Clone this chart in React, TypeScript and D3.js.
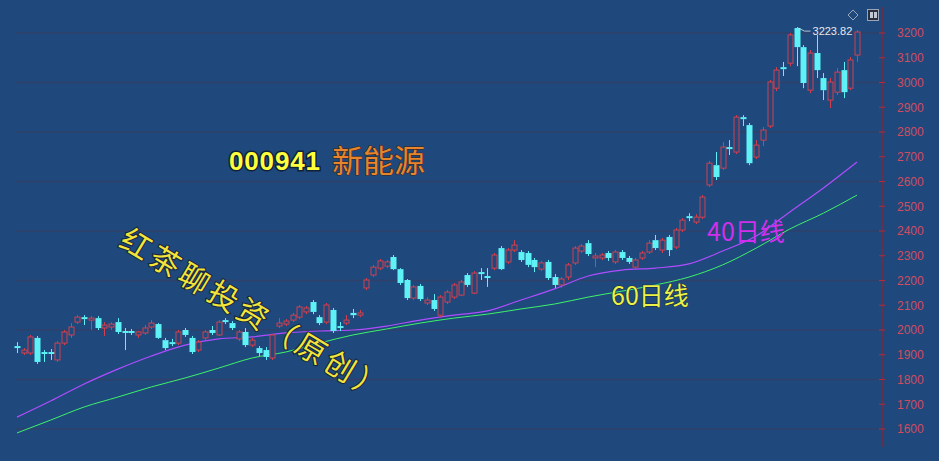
import React from 'react';
import * as d3 from 'd3';

// daily candles (index 0 = leftmost bar)
const opens = [
  1935, 1907, 1907, 1968, 1911, 1911, 1879, 1947, 1980, 2032,
  2052, 2040, 2048, 2008, 2012, 2032, 1996, 1996, 1980, 1988,
  2012, 2024, 1959, 1951, 1947, 2000, 1968, 1919, 1968, 2000,
  1980, 2040, 2028, 1964, 1992, 1939, 1927, 1919, 1887, 2016,
  2024, 2040, 2052, 2073, 2113, 2052, 2032, 2081, 2016, 2028,
  2069, 2060, 2170, 2222, 2250, 2258, 2295, 2246, 2202, 2129,
  2178, 2109, 2121, 2060, 2113, 2133, 2141, 2222, 2149, 2234,
  2218, 2250, 2331, 2275, 2323, 2315, 2311, 2283, 2246, 2275,
  2214, 2182, 2214, 2271, 2319, 2351, 2291, 2291, 2311, 2275,
  2315, 2291, 2254, 2291, 2315, 2363, 2323, 2376, 2335, 2404,
  2460, 2436, 2456, 2586, 2666, 2654, 2739, 2719, 2860, 2828,
  2699, 2767, 2824, 2977, 3062, 3078, 3220, 3143, 2969, 3119,
  3018, 2929, 2961, 3050, 2977, 3111,
];
const highs = [
  1951, 1927, 1980, 1976, 1919, 1923, 1955, 2000, 2028, 2060,
  2060, 2056, 2056, 2032, 2032, 2048, 2008, 2004, 1996, 2020,
  2040, 2028, 1968, 1964, 2000, 2008, 1976, 1959, 2000, 2016,
  2040, 2048, 2036, 2000, 2008, 1968, 1935, 1931, 1984, 2048,
  2044, 2069, 2101, 2097, 2121, 2060, 2109, 2089, 2032, 2060,
  2085, 2081, 2210, 2263, 2287, 2283, 2303, 2250, 2206, 2182,
  2186, 2133, 2145, 2141, 2161, 2190, 2202, 2230, 2238, 2250,
  2250, 2311, 2339, 2331, 2363, 2323, 2319, 2291, 2279, 2283,
  2226, 2214, 2271, 2339, 2347, 2363, 2311, 2311, 2319, 2323,
  2323, 2299, 2291, 2319, 2363, 2384, 2372, 2384, 2412, 2452,
  2472, 2468, 2545, 2683, 2719, 2759, 2767, 2868, 2868, 2836,
  2767, 2820, 3010, 3062, 3083, 3200, 3223.82, 3151, 3131, 3192,
  3038, 3018, 3058, 3083, 3103, 3212,
];
const lows = [
  1907, 1899, 1899, 1863, 1871, 1879, 1871, 1939, 1968, 2024,
  2020, 2000, 2000, 1976, 2000, 1984, 1919, 1980, 1968, 1980,
  2004, 1964, 1919, 1935, 1939, 1972, 1903, 1911, 1959, 1980,
  1976, 2024, 2000, 1955, 1931, 1931, 1895, 1879, 1879, 2008,
  2016, 2032, 2044, 2064, 2064, 2020, 2024, 1988, 1996, 2020,
  2048, 2052, 2161, 2214, 2242, 2250, 2242, 2182, 2121, 2121,
  2117, 2101, 2077, 2052, 2105, 2125, 2137, 2174, 2145, 2202,
  2174, 2242, 2242, 2267, 2315, 2275, 2254, 2234, 2238, 2202,
  2170, 2170, 2202, 2263, 2311, 2299, 2254, 2283, 2279, 2267,
  2283, 2267, 2246, 2283, 2307, 2323, 2311, 2299, 2327, 2396,
  2440, 2428, 2448, 2578, 2606, 2646, 2707, 2711, 2824, 2666,
  2691, 2743, 2816, 2965, 3026, 3066, 3066, 2977, 2957, 3018,
  2929, 2897, 2949, 2937, 2969, 3083,
];
const closes = [
  1927, 1919, 1972, 1871, 1903, 1903, 1947, 1992, 2012, 2052,
  2044, 2048, 2008, 2020, 2024, 1992, 1988, 1988, 1992, 2008,
  2028, 1968, 1927, 1943, 1992, 1980, 1911, 1951, 1992, 1988,
  2032, 2032, 2008, 1992, 1939, 1959, 1907, 1891, 1980, 2028,
  2036, 2060, 2093, 2089, 2073, 2028, 2101, 1996, 2008, 2040,
  2060, 2069, 2202, 2254, 2279, 2275, 2246, 2190, 2129, 2174,
  2125, 2121, 2085, 2133, 2153, 2182, 2194, 2182, 2230, 2226,
  2210, 2303, 2246, 2323, 2343, 2283, 2263, 2254, 2271, 2210,
  2182, 2206, 2263, 2331, 2339, 2307, 2299, 2303, 2291, 2315,
  2291, 2275, 2283, 2311, 2351, 2331, 2363, 2323, 2404, 2444,
  2452, 2456, 2537, 2674, 2618, 2739, 2731, 2860, 2852, 2674,
  2747, 2808, 3002, 3050, 3054, 3192, 3143, 2998, 3119, 3050,
  2969, 3002, 3042, 2961, 3091, 3204,
];

// moving averages, read every 5th bar
const maStep = 5;
const ma40 = [
  1648, 1713, 1782, 1842, 1895, 1939, 1964, 1972, 1988, 1996,
  2000, 2016, 2040, 2060, 2077, 2121, 2166, 2218, 2242, 2250,
  2267, 2319, 2380, 2477, 2574, 2679,
];
const ma60 = [
  1584, 1636, 1689, 1729, 1770, 1806, 1846, 1887, 1911, 1947,
  1980, 2004, 2028, 2048, 2064, 2085, 2105, 2133, 2157, 2182,
  2214, 2263, 2331, 2408, 2472, 2545,
];

const yTicks = d3.range(1600, 3201, 100);
const gridTicks = d3.range(1600, 3201, 200);
const maxLabel = '3223.82';
const maxIndex = 116;

const W = 939;
const H = 461;
const BG = '#1f497c';
const UP = '#d2404f';
const DOWN = '#5ef2f6';

export default function App() {
  const n = closes.length;
  const x = d3.scaleLinear().domain([0, n - 1]).range([17, 857]);
  const y = d3.scaleLinear().domain([1600, 3200]).range([429, 33]);
  const bodyW = 5;
  const axisX = 882;

  const maLine = d3
    .line<number>()
    .x((_, i) => x(i * maStep))
    .y((d) => y(d))
    .curve(d3.curveMonotoneX);

  const numFont = '"Liberation Sans", Arial, sans-serif';
  const cjkFont = '"Noto Sans CJK SC", sans-serif';

  return (
    <svg width={W} height={H} style={{ position: 'absolute', left: 0, top: 0, display: 'block' }}>
      <rect width={W} height={H} fill={BG} />

      {/* grid */}
      {gridTicks.map((t) => (
        <line key={t} x1={15} x2={axisX} y1={y(t)} y2={y(t)} stroke="#31406a" strokeWidth={1.5} />
      ))}

      {/* right axis */}
      <line x1={axisX} x2={axisX} y1={7} y2={447} stroke="#8e2433" strokeWidth={1.2} />
      {yTicks.map((t) => (
        <g key={t}>
          <line x1={axisX - 3} x2={axisX + 3} y1={y(t)} y2={y(t)} stroke="#b02c3e" strokeWidth={1} />
          <text x={897} y={y(t)} dy="0.36em" fill="#d04c60" fontSize={12} fontFamily={numFont}>
            {t}
          </text>
        </g>
      ))}

      {/* moving averages */}
      <path d={maLine(ma60) || ''} fill="none" stroke="#3ef26a" strokeWidth={1} />
      <path d={maLine(ma40) || ''} fill="none" stroke="#b04cff" strokeWidth={1.2} />

      {/* candles */}
      {closes.map((c, i) => {
        const o = opens[i];
        const up = c >= o;
        const col = up ? UP : DOWN;
        const cx = Math.round(x(i)) + 0.5;
        const top = y(Math.max(o, c));
        const bot = y(Math.min(o, c));
        const h = Math.max(1, bot - top);
        return (
          <g key={i}>
            <line x1={cx} x2={cx} y1={y(highs[i])} y2={top} stroke={col} />
            <line x1={cx} x2={cx} y1={top + h} y2={y(lows[i])} stroke={col} />
            {up ? (
              <rect x={cx - bodyW / 2} y={top} width={bodyW} height={h} fill={BG} stroke={col} strokeWidth={1} />
            ) : (
              <rect x={cx - bodyW / 2 - 0.5} y={top} width={bodyW + 1} height={h} fill={col} />
            )}
          </g>
        );
      })}

      {/* max marker */}
      <polyline
        points={`${x(maxIndex) + 2},${y(highs[maxIndex]) + 1} ${x(maxIndex) + 8},${y(highs[maxIndex]) + 4} ${x(maxIndex) + 14},${y(highs[maxIndex]) + 4}`}
        fill="none"
        stroke="#d8e0ea"
        strokeWidth={0.8}
      />
      <text x={x(maxIndex) + 16} y={y(highs[maxIndex]) + 4} dy="0.35em" fill="#e4eaf2" fontSize={11} fontFamily={numFont}>
        {maxLabel}
      </text>

      {/* top-right icons */}
      <path d="M853,10 L858,15 L853,20 L848,15 Z" fill="none" stroke="#9aa6b8" strokeWidth={1} />
      <rect x={867.5} y={9.5} width={11} height={11} fill="#2a2f3e" stroke="#9aa6b8" strokeWidth={1} />
      <rect x={870} y={12} width={3} height={6} fill="#c0c8d4" />
      <rect x={874} y={12} width={3} height={6} fill="#c0c8d4" />

      {/* titles */}
      <text
        x={229}
        y={170}
        fill="#ffff3c"
        fontSize={26}
        fontWeight="bold"
        fontFamily={numFont}
        stroke="#10213a"
        strokeWidth={3}
        paintOrder="stroke"
        textLength={91}
      >
        000941
      </text>
      <text x={332} y={172} fill="#e8842c" fontSize={31} fontFamily={cjkFont} stroke="#3a2410" strokeWidth={1} paintOrder="stroke">
        新能源
      </text>

      <text
        transform="translate(136,244) rotate(31)"
        x={-15}
        dy="0.36em"
        fill="#f3e43a"
        fontSize={30}
        letterSpacing={4}
        fontFamily={cjkFont}
        stroke="#16233a"
        strokeWidth={2}
        paintOrder="stroke"
      >
        红茶聊投资（原创）
      </text>

      <text x={707} y={241} fill="#cf2fec" fontSize={25} fontFamily={cjkFont}>
        40日线
      </text>
      <text
        x={611}
        y={305}
        fill="#ecf14a"
        fontSize={25}
        fontFamily={cjkFont}
        stroke="#1a2a30"
        strokeWidth={1}
        paintOrder="stroke"
      >
        60日线
      </text>
    </svg>
  );
}
